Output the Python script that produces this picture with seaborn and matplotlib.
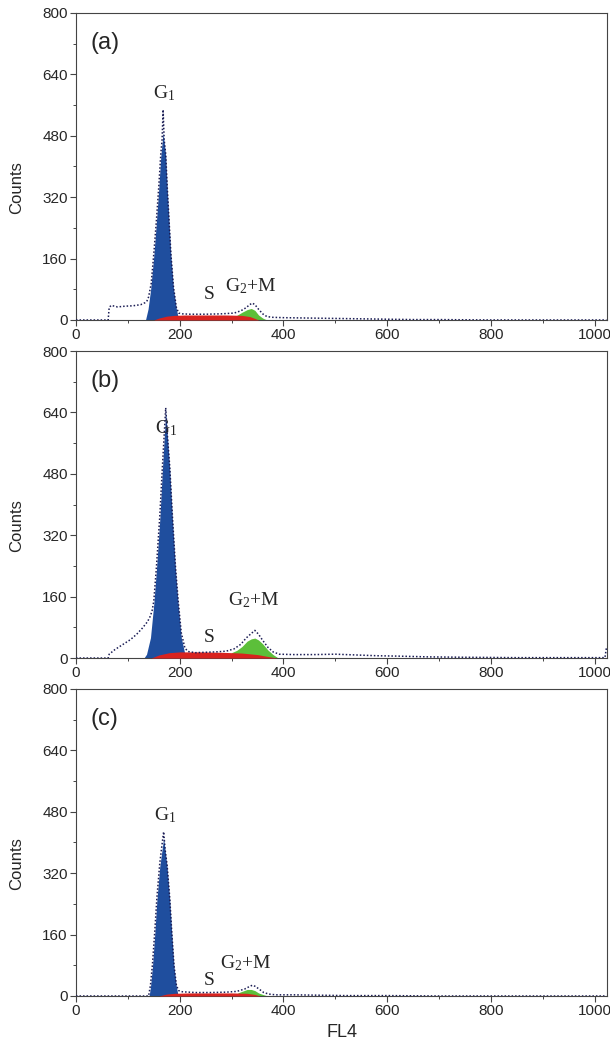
import matplotlib
matplotlib.use('Agg')
import matplotlib.pyplot as plt
from matplotlib.ticker import MultipleLocator
import pandas as pd
import seaborn as sns

# ---- data (channel, counts) ----
panel_names = ['(a)', '(b)', '(c)']

# measured histogram (dots)
meas_a = [(0, 0), (62, 0), (64, 33), (68, 38), (80, 34), (95, 36), (110, 37), (125, 40),
          (133, 45), (137, 50), (140, 60), (145, 95), (150, 172), (155, 258), (159.5, 345),
          (163.5, 432), (166, 470), (168, 548), (170, 470), (173, 432), (176, 345),
          (179.5, 258), (183, 172), (188, 86), (193.5, 33), (198, 18), (205, 16), (220, 15),
          (250, 15), (280, 16), (305, 18), (318, 24), (328, 32), (335, 40), (340, 44),
          (345, 40), (352, 28), (360, 16), (368, 9), (378, 7), (400, 6), (450, 5), (500, 4),
          (550, 3), (600, 2), (650, 1), (700, 1), (800, 0), (1023, 0)]
meas_b = [(0, 0), (62, 0), (64, 10), (75, 22), (90, 35), (105, 48), (117, 62), (128, 78),
          (138, 95), (143.6, 110), (147, 125), (150, 148), (155, 235), (161.5, 368),
          (166.6, 498), (170, 580), (173, 652), (176, 585), (180.8, 498), (186, 368),
          (192, 235), (197, 150), (203, 66), (210, 26), (216, 17), (230, 14), (250, 15),
          (270, 16), (290, 18), (305, 24), (318, 36), (328, 52), (338, 64), (345, 72),
          (352, 62), (360, 46), (370, 28), (380, 16), (392, 10), (420, 9), (460, 9),
          (500, 10), (540, 8), (580, 6), (620, 5), (680, 3), (750, 2), (850, 1), (950, 1),
          (1020, 1), (1023, 28)]
meas_c = [(0, 0), (140, 0), (143.6, 28), (147.4, 82), (152, 170), (156, 256), (161.5, 345),
          (165, 385), (169, 428), (172, 380), (175.6, 342), (180.8, 255), (184.6, 168),
          (189, 80), (193.6, 28), (198, 14), (205, 11), (230, 9), (260, 9), (290, 10),
          (310, 12), (325, 18), (335, 25), (340, 28), (346, 25), (354, 17), (362, 9),
          (372, 5), (385, 3), (420, 3), (470, 2), (520, 1), (600, 1), (700, 0), (1023, 0)]

# G1 fitted peak (blue)
g1_a = [(134, 0), (139, 29), (144, 81), (150, 167), (155, 254), (159.5, 340), (163.5, 427),
        (168, 488), (173, 427), (176, 340), (179.5, 254), (183, 167), (188, 81),
        (193.5, 29), (198, 0)]
g1_b = [(131, 0), (136, 10), (143.6, 53), (150, 141), (155, 228), (161.5, 360), (166.6, 491),
        (173, 642), (180.8, 491), (186, 360), (192, 228), (197, 141), (203, 53), (210, 10),
        (214, 0)]
g1_c = [(141, 0), (143.6, 24), (147.4, 76), (152, 164), (156, 250), (161.5, 337), (169, 412),
        (175.6, 337), (180.8, 250), (184.6, 164), (189, 76), (193.6, 24), (197, 0)]

# S phase (red)
s_a = [(150, 0), (160, 5), (175, 10), (190, 12), (210, 13), (250, 13), (290, 13), (320, 12),
       (335, 9), (345, 4), (352, 0)]
s_b = [(145, 0), (160, 8), (180, 14), (200, 16), (240, 16), (280, 15), (320, 13), (350, 9),
       (370, 4), (388, 0)]
s_c = [(160, 0), (175, 5), (190, 7), (220, 8), (260, 8), (300, 8), (330, 7), (345, 4),
       (355, 0)]

# G2+M top of fit (green, S + G2)
g2_a = [(310, 12), (320, 20), (330, 27), (338, 30), (345, 25), (352, 13), (360, 5), (368, 0)]
g2_b = [(300, 14), (310, 20), (320, 30), (330, 44), (338, 50), (345, 52), (352, 47),
        (360, 37), (370, 21), (380, 9), (390, 0)]
g2_c = [(312, 8), (322, 13), (330, 17), (338, 17), (345, 14), (352, 8), (360, 4), (370, 0)]

# label anchors (left, baseline) in data units
g1_pos = [(148, 578), (152, 586), (150, 458)]
s_pos = [(244, 55), (244, 42), (244, 29)]
g2m_pos = [(287, 74), (293, 138), (278, 73)]

meas = [meas_a, meas_b, meas_c]
g1 = [g1_a, g1_b, g1_c]
sph = [s_a, s_b, s_c]
g2 = [g2_a, g2_b, g2_c]

BLUE = '#1f4e9e'
RED = '#d8231f'
GREEN = '#5cbf3a'
DOT = '#1b1d55'

sns.set_theme(style='ticks')
plt.rcParams['font.family'] = ['Liberation Sans', 'DejaVu Sans']
plt.rcParams['mathtext.fontset'] = 'custom'
plt.rcParams['mathtext.rm'] = 'Liberation Serif'
plt.rcParams['mathtext.it'] = 'Liberation Serif:italic'

fig = plt.figure(figsize=(6.10, 10.45), dpi=100)
bottoms = [0.6938, 0.3703, 0.0469]

for i in range(3):
    ax = fig.add_axes([0.1246, bottoms[i], 0.8705, 0.2938])
    df_m = pd.DataFrame(meas[i], columns=['ch', 'cnt'])
    df_g1 = pd.DataFrame(g1[i], columns=['ch', 'cnt'])
    df_s = pd.DataFrame(sph[i], columns=['ch', 'cnt'])
    df_g2 = pd.DataFrame(g2[i], columns=['ch', 'cnt'])

    ax.fill_between(df_g1['ch'], 0, df_g1['cnt'], color=BLUE, lw=0, zorder=2)
    ax.fill_between(df_g2['ch'], 0, df_g2['cnt'], color=GREEN, lw=0, zorder=2)
    ax.fill_between(df_s['ch'], 0, df_s['cnt'], color=RED, lw=0, zorder=3)
    sns.lineplot(data=df_m, x='ch', y='cnt', ax=ax, color=DOT, lw=1.1,
                 linestyle=(0, (1, 1.3)), zorder=4)

    ax.set_xlim(0, 1024)
    ax.set_ylim(0, 800)
    ax.xaxis.set_major_locator(MultipleLocator(200))
    ax.xaxis.set_minor_locator(MultipleLocator(100))
    ax.yaxis.set_major_locator(MultipleLocator(160))
    ax.yaxis.set_minor_locator(MultipleLocator(80))
    ax.tick_params(which='major', direction='out', length=4, width=0.8,
                   labelsize=11, color='#444444', pad=2)
    ax.tick_params(which='minor', direction='out', length=2, width=0.7, color='#444444')
    for sp in ax.spines.values():
        sp.set_color('#444444')
        sp.set_linewidth(0.8)

    ax.set_ylabel('Counts', fontsize=12)
    ax.yaxis.set_label_coords(-0.097, 0.43)
    if i == 2:
        ax.set_xlabel('FL4', fontsize=13, labelpad=4)
    else:
        ax.set_xlabel('')

    ax.text(0.028, 0.902, panel_names[i], transform=ax.transAxes, fontsize=17,
            ha='left', va='center')
    ax.text(g1_pos[i][0], g1_pos[i][1], r'$\mathrm{G_1}$', fontsize=14,
            ha='left', va='baseline')
    ax.text(s_pos[i][0], s_pos[i][1], r'$\mathrm{S}$', fontsize=14,
            ha='left', va='baseline')
    ax.text(g2m_pos[i][0], g2m_pos[i][1], r'$\mathrm{G_2{+}M}$', fontsize=14,
            ha='left', va='baseline')

fig.savefig('out.png', dpi=100)
